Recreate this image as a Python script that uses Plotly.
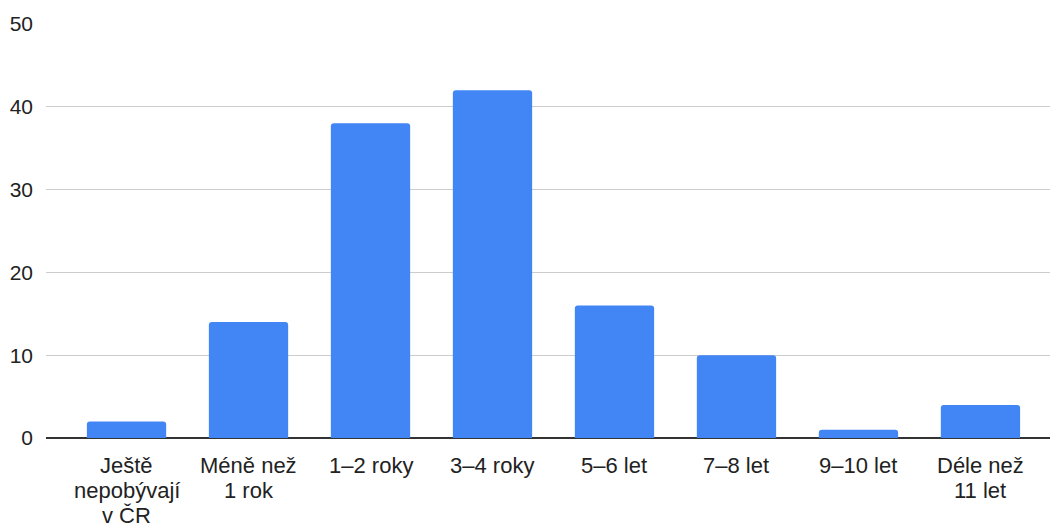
import plotly.graph_objects as go

categories = ["Ještě<br>nepobývají<br>v ČR", "Méně než<br>1 rok", "1–2 roky", "3–4 roky",
              "5–6 let", "7–8 let", "9–10 let", "Déle než<br>11 let"]
values = [2, 14, 38, 42, 16, 10, 1, 4]
y_ticks = [0, 10, 20, 30, 40, 50]

FONT = "Liberation Sans, Arial, sans-serif"

fig = go.Figure(go.Bar(
    x=list(range(len(categories))), y=values,
    marker=dict(color="#4285F4", line=dict(width=0), cornerradius=3),
    width=0.65,
))

annotations = []
for i, lab in enumerate(categories):
    for j, line in enumerate(lab.split("<br>")):
        annotations.append(dict(
            x=i, xref="x", y=0, yref="paper", text=line, showarrow=False,
            xanchor="center", yanchor="middle", yshift=-27 - 25 * j,
            font=dict(family=FONT, size=22, color="#222222"),
        ))

fig.update_layout(
    width=1050, height=524,
    margin=dict(l=46, r=0, t=24, b=86),
    plot_bgcolor="white", paper_bgcolor="white",
    font=dict(family=FONT, size=21, color="#222222"),
    showlegend=False,
    annotations=annotations,
    xaxis=dict(
        tickvals=list(range(len(categories))), showticklabels=False,
        range=[-0.66, 7.57], showgrid=False, zeroline=False, showline=False,
        ticks="", automargin=False,
    ),
    yaxis=dict(
        range=[0, 50], tickvals=y_ticks, showgrid=True, gridcolor="#cccccc", gridwidth=1,
        zeroline=True, zerolinecolor="#333333", zerolinewidth=2, showline=False,
        ticks="", ticklabelstandoff=12, automargin=False,
    ),
)
fig.write_html("out.html", config={"displayModeBar": False},
               post_script="document.body.style.margin='0';document.body.style.padding='0';")
